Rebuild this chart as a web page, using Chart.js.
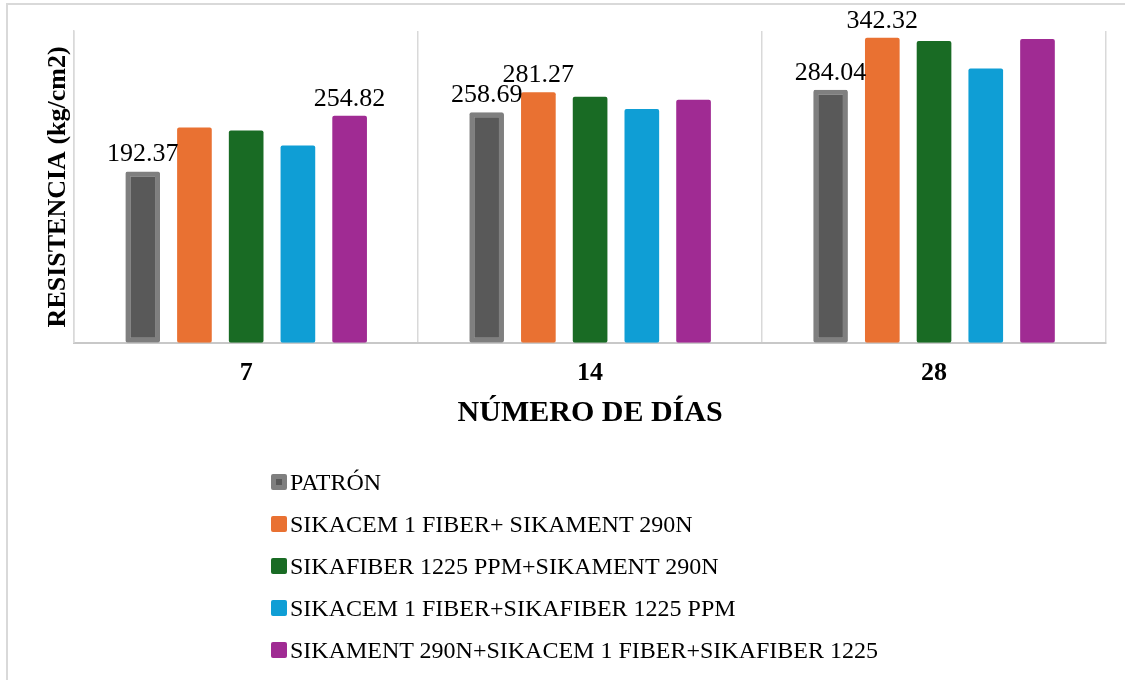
<!DOCTYPE html>
<html lang="es">
<head>
<meta charset="utf-8">
<title>Resistencia</title>
<script src="https://cdn.jsdelivr.net/npm/chart.js@4.4.1/dist/chart.umd.min.js"></script>
<style>
    body { margin: 0; background: #fff; }
    .contenedor { position: relative; width: 1125px; height: 680px; overflow: hidden; }
    .marco { position: absolute; left: 6px; top: 3px; width: 1200px; height: 800px; border-left: 2px solid #d9d9d9; border-top: 2px solid #d9d9d9; }
    canvas { position: absolute; left: 0; top: 0; }
    .leyenda { position: absolute; left: 271px; top: 461px; font-family: 'Liberation Serif', 'Times New Roman', serif; font-size: 24px; color: #000; }
    .leyenda .item { display: flex; align-items: center; height: 42px; }
    .leyenda .caja { width: 16px; height: 16px; box-sizing: border-box; border-radius: 2px; margin-right: 3px; }
</style>
</head>
<body>
<div class="contenedor">
    <div class="marco"></div>
    <canvas data-js="grafico-resistencia" width="1125" height="680"></canvas>
    <div class="leyenda" data-js="leyenda"></div>
</div>
<script>
const dias = ['7', '14', '28'];

const patron = [192.37, 258.69, 284.04];
const sikacemSikament = [241.8, 281.27, 342.32];
const sikafiberSikament = [238.4, 276.2, 338.8];
const sikacemSikafiber = [221.6, 262.4, 308.0];
const sikamentSikacemSikafiber = [254.82, 272.9, 341.0];

// qué barras llevan etiqueta de valor
const etiquetasPatron = [true, true, true];
const etiquetasSikacemSikament = [false, true, true];
const etiquetasNinguna = [false, false, false];
const etiquetasTriple = [true, false, false];

const fuente = "'Liberation Serif', 'Times New Roman', serif";

const elementos = {
    grafico: '[data-js="grafico-resistencia"]',
    leyenda: '[data-js="leyenda"]',
}

const etiquetasDeValor = {
    id: 'etiquetasDeValor',
    afterDatasetsDraw(chart) {
        const ctx = chart.ctx;
        ctx.save();
        ctx.font = `26px ${fuente}`;
        ctx.fillStyle = '#000';
        ctx.textAlign = 'center';
        ctx.textBaseline = 'bottom';
        chart.data.datasets.forEach((dataset, i) => {
            const meta = chart.getDatasetMeta(i);
            meta.data.forEach((barra, j) => {
                if (!dataset.etiquetas[j]) return;
                ctx.fillText(dataset.data[j].toFixed(2), barra.x, barra.y - 4);
            });
        });
        ctx.restore();
    }
};

const grafico = new Chart(document.querySelector(elementos.grafico), {
    type: 'bar',
    data: {
        labels: dias,
        datasets: [
            { label: 'PATRÓN', data: patron, etiquetas: etiquetasPatron,
              backgroundColor: '#595959', borderColor: '#7f7f7f', borderWidth: 5 },
            { label: 'SIKACEM 1 FIBER+ SIKAMENT 290N', data: sikacemSikament, etiquetas: etiquetasSikacemSikament,
              backgroundColor: '#E97132' },
            { label: 'SIKAFIBER 1225 PPM+SIKAMENT 290N', data: sikafiberSikament, etiquetas: etiquetasNinguna,
              backgroundColor: '#196B24' },
            { label: 'SIKACEM 1 FIBER+SIKAFIBER 1225 PPM', data: sikacemSikafiber, etiquetas: etiquetasNinguna,
              backgroundColor: '#0F9ED5' },
            { label: 'SIKAMENT 290N+SIKACEM 1 FIBER+SIKAFIBER 1225', data: sikamentSikacemSikafiber, etiquetas: etiquetasTriple,
              backgroundColor: '#A02B93' },
        ]
    },
    options: {
        responsive: false,
        animation: false,
        categoryPercentage: 0.752,
        barPercentage: 0.67,
        borderRadius: 2,
        borderSkipped: false,
        layout: { padding: { left: 43, right: 19, top: 31, bottom: 249 } },
        plugins: {
            legend: { display: false },
            tooltip: { enabled: false },
        },
        scales: {
            x: {
                grid: { color: '#d9d9d9', lineWidth: 1.5, drawTicks: false },
                border: { color: '#c8c8c8', width: 2 },
                ticks: { color: '#000', padding: 15, font: { family: fuente, size: 26, weight: 'bold' } },
                title: {
                    display: true, text: 'NÚMERO DE DÍAS', color: '#000',
                    padding: { top: -9, bottom: 0 },
                    font: { family: fuente, size: 30, weight: 'bold' }
                }
            },
            y: {
                min: 0,
                max: 350,
                grid: { display: false, drawTicks: false },
                border: { color: '#d9d9d9', width: 1.5 },
                ticks: { display: false },
                title: {
                    display: true, text: 'RESISTENCIA (kg/cm2)', color: '#000',
                    padding: { top: 0, bottom: 0 },
                    font: { family: fuente, size: 26, weight: 'bold' }
                }
            }
        }
    },
    plugins: [etiquetasDeValor]
});

function imprimirLeyenda(grafico) {
    const leyenda = document.querySelector(elementos.leyenda);
    grafico.data.datasets.forEach((dataset) => {
        const item = document.createElement('div');
        item.className = 'item';
        const caja = document.createElement('span');
        caja.className = 'caja';
        caja.style.background = dataset.backgroundColor;
        if (dataset.borderWidth) {
            caja.style.border = `5px solid ${dataset.borderColor}`;
        }
        const texto = document.createElement('span');
        texto.textContent = dataset.label;
        item.appendChild(caja);
        item.appendChild(texto);
        leyenda.appendChild(item);
    });
}

imprimirLeyenda(grafico);
</script>
</body>
</html>
